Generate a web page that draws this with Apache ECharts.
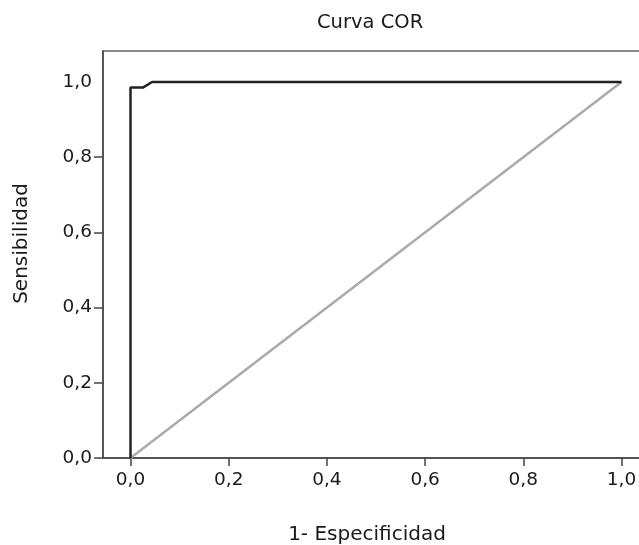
<!DOCTYPE html>
<html>
<head>
<meta charset="utf-8">
<script src="https://cdn.jsdelivr.net/npm/echarts@6/dist/echarts.min.js"></script>
<style>
html,body{margin:0;padding:0;background:#fff;}
#c{width:639px;height:545px;}
</style>
</head>
<body>
<div id="c"></div>
<script>
var rocFpr = [0, 0, 0.025, 0.044, 1];
var rocTpr = [0, 0.985, 0.985, 1, 1];
var refFpr = [0, 1];
var refTpr = [0, 1];
var xTicks = [0, 0.2, 0.4, 0.6, 0.8, 1.0];
var yTicks = [0, 0.2, 0.4, 0.6, 0.8, 1.0];
var yTickMarks = [0, 0.2, 0.4, 0.6, 0.8];

var FONT = '"DejaVu Sans", Verdana, sans-serif';
function fmt(v){ return v.toFixed(1).replace('.', ','); }

var chart = echarts.init(document.getElementById('c'), null, {renderer:'canvas'});
chart.setOption({
  animation: false,
  backgroundColor: '#fff',
  title: {
    text: 'Curva COR',
    left: 312, top: 8,
    textStyle: {fontFamily: FONT, fontSize: 19.5, fontWeight: 'normal', color: '#1a1a1a'}
  },
  grid: {left: 103, top: 51, width: 546, height: 407, outerBoundsMode: 'none', containLabel: false,
         show: true, borderColor: '#666', borderWidth: 1.5, backgroundColor: 'transparent'},
  xAxis: {
    type: 'value', min: -0.056, max: 1.056,
    name: '1- Especificidad', nameLocation: 'middle', nameGap: 67,
    nameTextStyle: {fontFamily: FONT, fontSize: 20, color: '#1a1a1a', padding: [0, 18, 0, 0]},
    axisLine: {show: true, onZero: false, lineStyle: {color: '#444', width: 1.5}},
    axisTick: {show: true, length: 8, customValues: xTicks, lineStyle: {color: '#444', width: 1.5}},
    axisLabel: {customValues: xTicks, formatter: fmt, fontFamily: FONT, fontSize: 18.5, color: '#1a1a1a', margin: 13},
    splitLine: {show: false}
  },
  yAxis: {
    type: 'value', min: 0, max: 1.0824,
    name: 'Sensibilidad', nameLocation: 'middle', nameGap: 71, nameRotate: 90,
    nameTextStyle: {fontFamily: FONT, fontSize: 20, color: '#1a1a1a', padding: [0, 0, 0, 22]},
    axisLine: {show: true, onZero: false, lineStyle: {color: '#444', width: 1.5}},
    axisTick: {show: true, length: 9, customValues: yTickMarks, lineStyle: {color: '#444', width: 1.5}},
    axisLabel: {customValues: yTicks, formatter: fmt, fontFamily: FONT, fontSize: 18.5, color: '#1a1a1a', margin: 11},
    splitLine: {show: false}
  },
  series: [
    {
      type: 'line', data: refFpr.map(function(x, i){ return [x, refTpr[i]]; }),
      symbol: 'none', lineStyle: {color: '#aaaaaa', width: 2.5}, z: 2
    },
    {
      type: 'line', data: rocFpr.map(function(x, i){ return [x, rocTpr[i]]; }),
      symbol: 'none', lineStyle: {color: '#222', width: 2.5}, z: 3
    }
  ]
});
</script>
</body>
</html>
